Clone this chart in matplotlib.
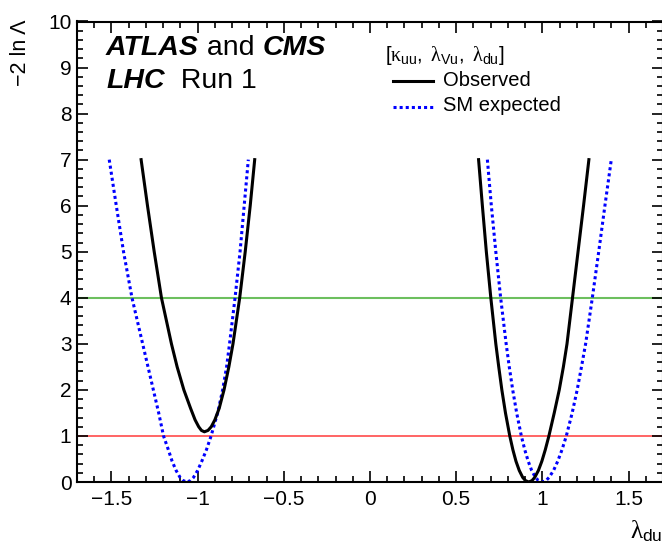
import matplotlib
matplotlib.use("Agg")
import matplotlib.pyplot as plt
from matplotlib.ticker import MultipleLocator

plt.rcParams.update({
    'font.family': ['Liberation Sans', 'DejaVu Sans'],
    'font.size': 15,
    'mathtext.fontset': 'custom',
    'mathtext.rm': 'Liberation Sans',
    'mathtext.it': 'Liberation Serif',
})

# curves: -2 ln Lambda vs lambda_du (left branch top -> minimum -> right branch top)
obs_left_x = [-1.328, -1.291, -1.252, -1.210, -1.152, -1.119, -1.080, -1.041, -1.015, -0.994, -0.978,
              -0.961,
              -0.940, -0.921, -0.900, -0.875, -0.847, -0.819, -0.795, -0.756, -0.724, -0.695, -0.669]
obs_left_y = [7.0, 6.0, 5.0, 4.0, 3.0, 2.5, 2.0, 1.6, 1.35, 1.2, 1.12,
              1.09,
              1.12, 1.2, 1.35, 1.6, 2.0, 2.5, 3.0, 4.0, 5.0, 6.0, 7.0]

exp_left_x = [-1.513, -1.472, -1.430, -1.381, -1.319, -1.288, -1.257, -1.226, -1.198, -1.170, -1.148,
              -1.125, -1.102, -1.084, -1.063,
              -1.042, -1.024, -1.000, -0.976, -0.949, -0.922, -0.884, -0.855, -0.832, -0.815, -0.783,
              -0.754, -0.730, -0.706]
obs_right_x = [0.630, 0.652, 0.675, 0.701, 0.730, 0.747, 0.765, 0.786, 0.811, 0.829, 0.847,
               0.866, 0.886, 0.902, 0.921,
               0.940, 0.956, 0.977, 0.997, 1.017, 1.038, 1.069, 1.098, 1.122, 1.143, 1.175,
               1.207, 1.239, 1.270]
exp_right_x = [0.681, 0.704, 0.730, 0.758, 0.790, 0.808, 0.828, 0.851, 0.878, 0.898, 0.918,
               0.938, 0.960, 0.977, 0.998,
               1.021, 1.039, 1.065, 1.089, 1.114, 1.139, 1.173, 1.202, 1.227, 1.251, 1.290,
               1.327, 1.363, 1.400]
bowl_y = [7.0, 6.0, 5.0, 4.0, 3.0, 2.5, 2.0, 1.5, 1.0, 0.7, 0.45,
          0.25, 0.1, 0.03, 0.0,
          0.03, 0.1, 0.25, 0.45, 0.7, 1.0, 1.5, 2.0, 2.5, 3.0, 4.0,
          5.0, 6.0, 7.0]

cl68 = 1.0
cl95 = 4.0

fig = plt.figure(figsize=(6.62, 5.45), dpi=100)
ax = fig.add_axes([77/662, 63/545, 586/662, 460.5/545])

ax.axhline(cl95, color='#6cbf5e', lw=1.5, zorder=1)
ax.axhline(cl68, color='#ff3b3b', lw=1.1, zorder=1)

ax.plot(exp_left_x, bowl_y, color='#0000ff', lw=2.2, ls=(0, (1, 1)), zorder=2)
ax.plot(exp_right_x, bowl_y, color='#0000ff', lw=2.2, ls=(0, (1, 1)), zorder=2)
ax.plot(obs_left_x, obs_left_y, color='black', lw=2.2, zorder=3)
ax.plot(obs_right_x, bowl_y, color='black', lw=2.2, zorder=3)

ax.set_xlim(-1.7, 1.7)
ax.set_ylim(0, 10)
ax.xaxis.set_minor_locator(MultipleLocator(0.1))
ax.yaxis.set_major_locator(MultipleLocator(1))
ax.yaxis.set_minor_locator(MultipleLocator(0.2))
ax.set_xticks([-1.5, -1, -0.5, 0, 0.5, 1, 1.5])
ax.set_xticklabels(['\u22121.5', '\u22121', '\u22120.5', '0', '0.5', '1', '1.5'])
ax.tick_params(which='both', direction='in', top=True, right=True, width=1.2)
ax.tick_params(which='major', length=8, labelsize=15)
ax.tick_params(axis='x', which='major', pad=6)
ax.tick_params(axis='y', which='major', pad=4)
ax.tick_params(which='minor', length=4)
for s in ax.spines.values():
    s.set_linewidth(1.5)

# axis titles, ROOT style at the ends
fig.text(20/662, 1 - 19/545, '\u22122 ln \u039b', rotation=90, ha='center', va='top', fontsize=15.5)
fig.text(630/662, 7/545, r'$\lambda_{\mathrm{du}}$', ha='left', va='baseline', fontsize=18)

# experiment label
t1 = ax.text(0.0495, 0.927, 'ATLAS', transform=ax.transAxes, fontsize=20.5,
             fontweight='bold', fontstyle='italic', va='baseline')
t2 = ax.annotate(' and ', xy=(1, 0), xycoords=t1, fontsize=20.5, va='bottom')
ax.annotate('CMS', xy=(1, 0), xycoords=t2, fontsize=20.5, fontweight='bold',
            fontstyle='italic', va='bottom')
t3 = ax.text(0.0495, 0.8556, 'LHC', transform=ax.transAxes, fontsize=20.5,
             fontweight='bold', fontstyle='italic', va='baseline')
ax.annotate('  Run 1', xy=(1, 0), xycoords=t3, fontsize=20.5, va='bottom')

# legend drawn by hand
ax.text(0.5256, 0.915, r'$[\kappa_{\mathrm{uu}},\ \lambda_{\mathrm{Vu}},\ \lambda_{\mathrm{du}}]$',
        transform=ax.transAxes, fontsize=14.5, va='baseline')
ax.plot([0.539, 0.6075], [0.8708, 0.8708], color='black', lw=2.2, transform=ax.transAxes, clip_on=False)
ax.text(0.6246, 0.860, 'Observed', transform=ax.transAxes, fontsize=14.5, va='baseline')
ax.plot([0.539, 0.6075], [0.8143, 0.8143], color='#0000ff', lw=2.2, ls=(0, (1, 1)),
        transform=ax.transAxes, clip_on=False)
ax.text(0.6246, 0.8046, 'SM expected', transform=ax.transAxes, fontsize=14.5, va='baseline')

fig.savefig('out.png', dpi=100)
